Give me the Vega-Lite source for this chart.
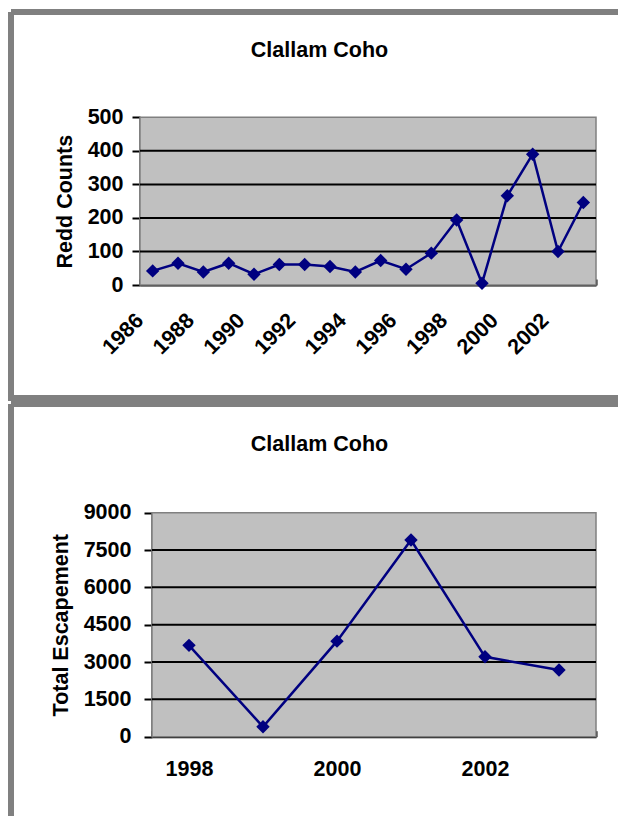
{
  "$schema": "https://vega.github.io/schema/vega-lite/v6.json",
  "padding": {"left": 8, "top": 9, "right": 0, "bottom": 0},
  "background": "white",
  "spacing": 0,
  "config": {
    "font": "Liberation Sans",
    "view": {"fill": "white", "stroke": "#808080", "strokeWidth": 6},
    "title": {"font": "Liberation Sans", "fontSize": 21.5, "fontWeight": "bold", "color": "black", "anchor": "middle", "frame": "group"},
    "axis": {
      "domainColor": "black", "domainWidth": 2, "tickColor": "black", "tickWidth": 2,
      "labelColor": "black", "labelFont": "Liberation Sans", "labelFontSize": 21.5, "labelFontWeight": "bold",
      "titleColor": "black", "titleFont": "Liberation Sans", "titleFontSize": 21.5, "titleFontWeight": "bold",
      "grid": false, "labelOverlap": false, "labelFlush": false, "labelBound": false, "zindex": 1
    }
  },
  "vconcat": [
    {
      "width": 607,
      "height": 386,
      "view": {"strokeDash": [607, 386, 993, 0]},
      "title": {"text": "Clallam Coho", "offset": -60, "baseline": "middle", "dx": 5},
      "layer": [
        {
          "data": {"values": [{}]},
          "mark": {"type": "rect", "fill": "#C0C0C0", "stroke": "#808080", "strokeWidth": 1.5},
          "encoding": {
            "x": {"datum": 1985.5, "type": "quantitative"},
            "x2": {"datum": 2003.5},
            "y": {"datum": 0, "type": "quantitative"},
            "y2": {"datum": 500}
          }
        },
        {
          "data": {"values": [{"g": 100}, {"g": 200}, {"g": 300}, {"g": 400}]},
          "mark": {"type": "rule", "color": "black", "strokeWidth": 2},
          "encoding": {
            "y": {"field": "g", "type": "quantitative"},
            "x": {"datum": 1985.5, "type": "quantitative"},
            "x2": {"datum": 2003.5}
          }
        },
        {
          "data": {"name": "redd", "values": [
            {"year": 1986, "redd": 42}, {"year": 1987, "redd": 65}, {"year": 1988, "redd": 39},
            {"year": 1989, "redd": 65}, {"year": 1990, "redd": 32}, {"year": 1991, "redd": 61},
            {"year": 1992, "redd": 61}, {"year": 1993, "redd": 55}, {"year": 1994, "redd": 39},
            {"year": 1995, "redd": 73}, {"year": 1996, "redd": 47}, {"year": 1997, "redd": 95},
            {"year": 1998, "redd": 194}, {"year": 1999, "redd": 5}, {"year": 2000, "redd": 266},
            {"year": 2001, "redd": 390}, {"year": 2002, "redd": 100}, {"year": 2003, "redd": 246}
          ]},
          "mark": {"type": "line", "color": "#000080", "strokeWidth": 2.5},
          "encoding": {
            "x": {
              "field": "year", "type": "quantitative",
              "scale": {"domain": [1985.5, 2003.5], "range": [129, 585], "nice": false, "zero": false},
              "axis": {
                "title": null, "offset": -113,
                "values": [1985.5, 1986.5, 1987.5, 1988.5, 1989.5, 1990.5, 1991.5, 1992.5, 1993.5, 1994.5, 1995.5, 1996.5, 1997.5, 1998.5, 1999.5, 2000.5, 2001.5, 2002.5, 2003.5],
                "labelExpr": "(datum.value - 1985.5) % 2 === 0 && datum.value < 2003 ? '' + (datum.value + 0.5) : ''",
                "tickSize": -6, "labelAngle": -45, "labelAlign": "right", "labelBaseline": "middle",
                "labelPadding": 38, "labelOffset": 0
              }
            },
            "y": {
              "field": "redd", "type": "quantitative",
              "scale": {"domain": [0, 500], "range": [273, 105.3], "nice": false, "zero": true},
              "axis": {
                "title": "Redd Counts", "offset": -129,
                "values": [0, 100, 200, 300, 400, 500],
                "tickSize": 8, "labelPadding": 9, "titlePadding": 11
              }
            }
          }
        },
        {
          "data": {"name": "redd"},
          "mark": {"type": "point", "shape": "diamond", "filled": true, "size": 180, "color": "#000080", "opacity": 1},
          "encoding": {
            "x": {"field": "year", "type": "quantitative"},
            "y": {"field": "redd", "type": "quantitative"}
          }
        }
      ]
    },
    {
      "width": 607,
      "height": 412,
      "view": {"strokeDash": [607, 1019, 412, 0]},
      "title": {"text": "Clallam Coho", "offset": -62, "baseline": "middle", "dx": 5},
      "layer": [
        {
          "data": {"values": [{}]},
          "mark": {"type": "rect", "fill": "#C0C0C0", "stroke": "#808080", "strokeWidth": 1.5},
          "encoding": {
            "x": {"datum": 1997.5, "type": "quantitative"},
            "x2": {"datum": 2003.5},
            "y": {"datum": 0, "type": "quantitative"},
            "y2": {"datum": 9000}
          }
        },
        {
          "data": {"values": [{"g": 1500}, {"g": 3000}, {"g": 4500}, {"g": 6000}, {"g": 7500}]},
          "mark": {"type": "rule", "color": "black", "strokeWidth": 2},
          "encoding": {
            "y": {"field": "g", "type": "quantitative"},
            "x": {"datum": 1997.5, "type": "quantitative"},
            "x2": {"datum": 2003.5}
          }
        },
        {
          "data": {"name": "esc", "values": [
            {"year": 1998, "escapement": 3670}, {"year": 1999, "escapement": 400},
            {"year": 2000, "escapement": 3840}, {"year": 2001, "escapement": 7900},
            {"year": 2002, "escapement": 3210}, {"year": 2003, "escapement": 2680}
          ]},
          "mark": {"type": "line", "color": "#000080", "strokeWidth": 2.5},
          "encoding": {
            "x": {
              "field": "year", "type": "quantitative",
              "scale": {"domain": [1997.5, 2003.5], "range": [141, 585], "nice": false, "zero": false},
              "axis": {
                "title": null, "offset": -79.3,
                "values": [1997.5, 1998.5, 1999.5, 2000.5, 2001.5, 2002.5, 2003.5],
                "labelExpr": "(datum.value - 1997.5) % 2 === 0 && datum.value < 2003 ? '' + (datum.value + 0.5) : ''",
                "tickSize": -6, "labelAngle": 0, "labelAlign": "center", "labelBaseline": "top",
                "labelPadding": 28, "labelOffset": 37
              }
            },
            "y": {
              "field": "escapement", "type": "quantitative",
              "scale": {"domain": [0, 9000], "range": [332.7, 108.7], "nice": false, "zero": true},
              "axis": {
                "title": "Total Escapement", "offset": -141, "format": "d",
                "values": [0, 1500, 3000, 4500, 6000, 7500, 9000],
                "tickSize": 8, "labelPadding": 13, "titlePadding": 11
              }
            }
          }
        },
        {
          "data": {"name": "esc"},
          "mark": {"type": "point", "shape": "diamond", "filled": true, "size": 180, "color": "#000080", "opacity": 1},
          "encoding": {
            "x": {"field": "year", "type": "quantitative"},
            "y": {"field": "escapement", "type": "quantitative"}
          }
        }
      ]
    }
  ]
}
